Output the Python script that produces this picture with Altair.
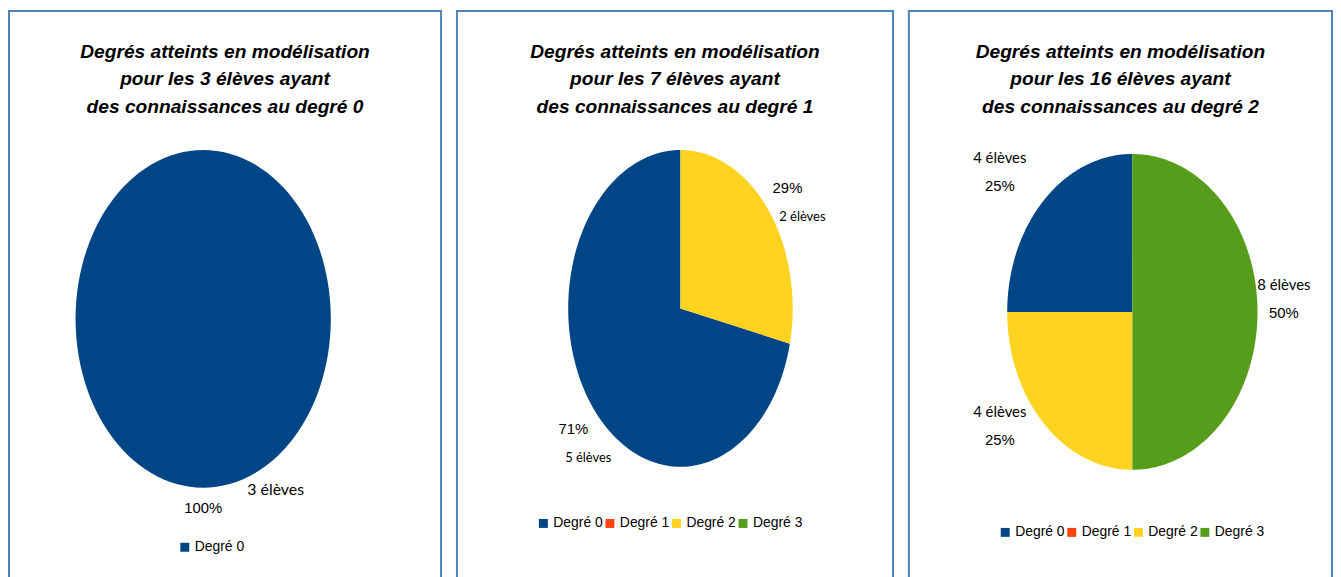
import altair as alt
import pandas as pd

# ---------------- data ----------------
titles = [
    "Degrés atteints en modélisation\npour les 3 élèves ayant\n des connaissances au degré 0",
    "Degrés atteints en modélisation\npour les 7 élèves ayant\ndes connaissances au degré 1",
    "Degrés atteints en modélisation\npour les 16 élèves ayant\ndes connaissances au degré 2",
]
panel1_categories = ["Degré 0"]
panel1_counts = [3]
panel2_categories = ["Degré 0", "Degré 1", "Degré 2", "Degré 3"]
panel2_counts = [5, 0, 2, 0]
panel3_categories = ["Degré 0", "Degré 1", "Degré 2", "Degré 3"]
panel3_counts = [4, 0, 4, 8]
count_suffix = " élèves"

# ---------------- style ----------------
palette = {"Degré 0": "#004586", "Degré 1": "#ff420e", "Degré 2": "#ffd320", "Degré 3": "#579d1c"}
BORDER = "#4F81BD"
H = 572
N = 120  # arc resolution
TITLE_FONT = "Liberation Sans"
NUM_FONT = "Liberation Sans"

geoms = [
    dict(w=435, cx=195.5, cy=310, rx=128.5, ry=170, lx=170, ly=533, fx=1.13, fy=1.13,
         pdx=0, pdy=-2, cdx=73, cdy=-20, cfont="Lato", csize=16),
    dict(w=439, cx=225, cy=299.5, rx=113, ry=159.5, lx=80, ly=509, fx=1.22, fy=1.22,
         pdx=0, pdy=0, cdx=15, cdy=29, cfont="Liberation Sans Narrow, Lato", csize=13),
    dict(w=426, cx=225, cy=303, rx=126, ry=159, lx=90, ly=518, fx=1.33, fy=1.14,
         pdx=-15, pdy=1, cdx=-15, cdy=-27, cfont="Lato", csize=15),
]


def panel(title, cats, counts, g):
    df = pd.DataFrame({"cat": cats, "count": counts, "order": list(range(len(cats)))})
    xs = alt.Scale(domain=[-1, 1], range=[g["cx"] - g["rx"], g["cx"] + g["rx"]], nice=False, zero=False)
    ys = alt.Scale(domain=[-1, 1], range=[g["cy"] + g["ry"], g["cy"] - g["ry"]], nice=False, zero=False)

    base = (
        alt.Chart(df)
        .transform_joinaggregate(total="sum(count)")
        .transform_window(cum="sum(count)", sort=[alt.SortField("order")], frame=[None, 0])
        .transform_filter("datum.count > 0")
        .transform_calculate(
            a0="-2*PI*(datum.cum - datum.count)/datum.total",
            a1="-2*PI*datum.cum/datum.total",
        )
        .transform_calculate(
            mid="(datum.a0 + datum.a1)/2",
            pct="format(datum.count/datum.total, '.0%')",
            nlab=f"datum.count + '{count_suffix}'",
        )
    )

    pie = (
        base.transform_calculate(k=f"sequence(0, {N + 3})")
        .transform_flatten(["k"])
        .transform_calculate(
            r=f"(datum.k == 0 || datum.k == {N + 2}) ? 0 : 1",
            ang=f"datum.a0 + (clamp(datum.k - 1, 0, {N})/{N})*(datum.a1 - datum.a0)",
        )
        .transform_calculate(px="datum.r*sin(datum.ang)", py="datum.r*cos(datum.ang)")
        .mark_line(filled=True, interpolate="linear")
        .encode(
            x=alt.X("px:Q", scale=xs, axis=None),
            y=alt.Y("py:Q", scale=ys, axis=None),
            color=alt.Color(
                "cat:N",
                scale=alt.Scale(domain=cats, range=[palette[c] for c in cats]),
                legend=alt.Legend(
                    orient="none", legendX=g["lx"], legendY=g["ly"], direction="horizontal",
                    title=None, symbolType="square", symbolSize=81, symbolStrokeWidth=0,
                    labelFont="Liberation Sans", labelFontSize=14, labelColor="black",
                    labelOffset=3, columnPadding=0, padding=0, symbolOffset=0,
                ),
            ),
            order=alt.Order("k:Q"),
            detail="cat:N",
        )
    )

    lab = base.transform_calculate(
        lx=f"{g['fx']}*sin(datum.mid)", ly=f"{g['fy']}*cos(datum.mid)"
    )
    pct = lab.mark_text(
        font=NUM_FONT, fontSize=15, color="black", align="center", baseline="middle",
        dx=g["pdx"], dy=g["pdy"],
    ).encode(x=alt.X("lx:Q", scale=xs), y=alt.Y("ly:Q", scale=ys), text="pct:N")
    cnt = lab.mark_text(
        font=g["cfont"], fontSize=g["csize"], color="black", align="center", baseline="middle",
        dx=g["cdx"], dy=g["cdy"],
    ).encode(x=alt.X("lx:Q", scale=xs), y=alt.Y("ly:Q", scale=ys), text="nlab:N")

    ttl = alt.Chart(pd.DataFrame({"t": [title]})).mark_text(
        font=TITLE_FONT, fontSize=19.3, fontWeight="bold", fontStyle="italic", color="black",
        align="center", baseline="alphabetic", lineBreak="\n", lineHeight=28,
    ).encode(text="t:N", x=alt.value(g["w"] / 2), y=alt.value(47))

    return alt.layer(pie, pct, cnt, ttl).properties(width=g["w"], height=H)


p1 = panel(titles[0], panel1_categories, panel1_counts, geoms[0])
p2 = panel(titles[1], panel2_categories, panel2_counts, geoms[1])
p3 = panel(titles[2], panel3_categories, panel3_counts, geoms[2])

chart = (
    alt.hconcat(p1, p2, p3, spacing=14)
    .resolve_scale(color="independent", x="independent", y="independent")
    .properties(padding=0)
    .configure_view(stroke=BORDER, strokeWidth=2)
)

chart.save("out.html", embed_options={"renderer": "svg", "actions": False})
